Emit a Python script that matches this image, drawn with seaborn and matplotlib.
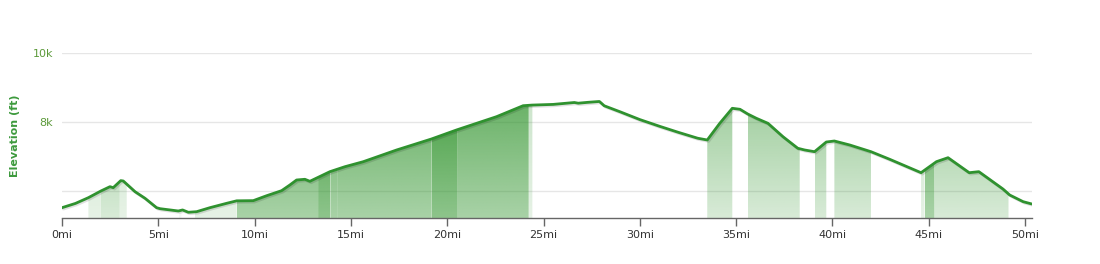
import numpy as np
import pandas as pd
import matplotlib
matplotlib.use("Agg")
import matplotlib.pyplot as plt
import matplotlib.patheffects as pe
import seaborn as sns

# ---- data ----
dist_mi = [0.0, 0.7, 1.37, 2.02, 2.49, 2.66, 3.05, 3.18, 3.79, 4.31, 4.91, 5.09, 6.04, 6.26,
           6.56, 6.99, 7.68, 8.55, 9.07, 9.93, 10.63, 11.4, 11.83, 12.18, 12.61, 12.87, 13.91,
           14.69, 15.64, 17.37, 19.18, 20.48, 22.56, 23.94, 24.4, 25.5, 26.6, 26.8, 27.3, 27.9,
           28.15, 29.0, 30.0, 31.0, 32.0, 33.0, 33.5, 34.15, 34.8, 35.2, 35.6, 36.05, 36.65,
           37.43, 38.2, 38.56, 39.07, 39.68, 40.1, 40.9, 42.0, 42.97, 44.6, 45.4, 46.0, 47.1,
           47.6, 48.85, 49.2, 49.9, 50.35]
elev_ft = [5516, 5640, 5806, 6000, 6125, 6096, 6300, 6290, 5980, 5788, 5516, 5487, 5420, 5450,
           5383, 5400, 5516, 5643, 5715, 5720, 5864, 6009, 6174, 6319, 6339, 6281, 6560,
           6704, 6849, 7188, 7507, 7768, 8154, 8472, 8490, 8510, 8565, 8545, 8570, 8595,
           8470, 8290, 8070, 7880, 7700, 7530, 7478, 7962, 8397, 8368, 8232, 8107, 7962,
           7574, 7238, 7188, 7139, 7420, 7449, 7333, 7139, 6919, 6530, 6850, 6965, 6530,
           6560, 6058, 5884, 5690, 5623]

zone_start = [1.37, 2.02, 3.0, 6.07, 6.9, 9.07, 13.3, 13.94, 14.3, 19.18, 20.53, 24.23,
              33.5, 35.6, 39.07, 40.1, 44.6, 44.78, 45.3]
zone_end = [2.02, 3.0, 3.36, 6.2, 9.07, 13.3, 13.94, 14.3, 19.18, 20.53, 24.23, 24.42,
            34.8, 38.3, 39.68, 42.0, 44.78, 45.3, 49.14]
zone_level = [1, 2, 1, 0, 1, 3, 4, 3, 3, 4, 3, 1, 2, 2, 2, 2, 1, 3, 2]

x_ticks = [0, 5, 10, 15, 20, 25, 30, 35, 40, 45, 50]
x_tick_labels = ["0mi", "5mi", "10mi", "15mi", "20mi", "25mi", "30mi", "35mi", "40mi", "45mi", "50mi"]
y_ticks = [6000, 8000, 10000]
y_tick_labels = ["", "8k", "10k"]

# ---- style ----
sns.set_theme(style="white")
plt.rcParams["font.family"] = ["DejaVu Sans"]

LINE = "#2f922f"
FILL_RGB = np.array([48, 148, 44]) / 255.0
ALPHA_TOP = {0: 0.12, 1: 0.30, 2: 0.57, 3: 0.85, 4: 1.0}
ALPHA_BOT = {0: 0.04, 1: 0.12, 2: 0.19, 3: 0.42, 4: 0.55}

YMIN, YMAX = 5217, 10000
XMIN, XMAX = 0, 50.36

fig = plt.figure(figsize=(11, 2.64), dpi=100)
fig.patch.set_facecolor("white")
ax = fig.add_axes([62 / 1100, 1 - 218 / 264, (1032 - 62) / 1100, (218 - 53) / 264])
ax.set_facecolor("white")

df = pd.DataFrame({"dist": dist_mi, "elev": elev_ft})
d = np.array(dist_mi)
e = np.array(elev_ft, dtype=float)

# gradient-filled zones under the profile
for s, t, lvl in zip(zone_start, zone_end, zone_level):
    inner = d[(d > s) & (d < t)]
    xs = np.concatenate([[s], inner, [t]])
    ys = np.interp(xs, d, e)
    poly = ax.fill_between(xs, ys, YMIN, facecolor="none", edgecolor="none")
    n = 256
    alphas = np.linspace(ALPHA_BOT[lvl], ALPHA_TOP[lvl], n)
    img = np.zeros((n, 1, 4))
    img[:, 0, :3] = FILL_RGB
    img[:, 0, 3] = alphas
    im = ax.imshow(img, extent=[s, t, YMIN, YMAX], origin="lower", aspect="auto",
                   interpolation="bilinear", zorder=1)
    im.set_clip_path(poly.get_paths()[0], transform=ax.transData)

sns.lineplot(data=df, x="dist", y="elev", ax=ax, color=LINE, linewidth=2.0, zorder=3,
             path_effects=[pe.SimpleLineShadow(offset=(1, -1), shadow_color="black", alpha=0.12),
                           pe.Normal()])

ax.set_xlim(XMIN, XMAX)
ax.set_ylim(YMIN, YMAX)

# grid
for yv in y_ticks:
    ax.axhline(yv, color="#e6e6e6", linewidth=1, zorder=0)

ax.set_xticks(x_ticks)
ax.set_xticklabels(x_tick_labels)
ax.set_yticks(y_ticks)
ax.set_yticklabels(y_tick_labels)
ax.tick_params(axis="x", which="major", direction="out", length=6, width=1, color="#666666",
               labelsize=8, labelcolor="#333333", pad=3, bottom=True)
ax.tick_params(axis="y", length=0, labelsize=8, labelcolor="#5c9a3a", pad=6.5)

for side in ["top", "right", "left"]:
    ax.spines[side].set_visible(False)
ax.spines["bottom"].set_color("#666666")
ax.spines["bottom"].set_linewidth(1)

ax.set_xlabel("")
ax.set_ylabel("Elevation (ft)", fontsize=8, fontweight="bold", color="#3d9a3d")
ax.yaxis.set_label_coords(-0.0433, 0.5)

fig.savefig("out.png", dpi=100, facecolor="white")
